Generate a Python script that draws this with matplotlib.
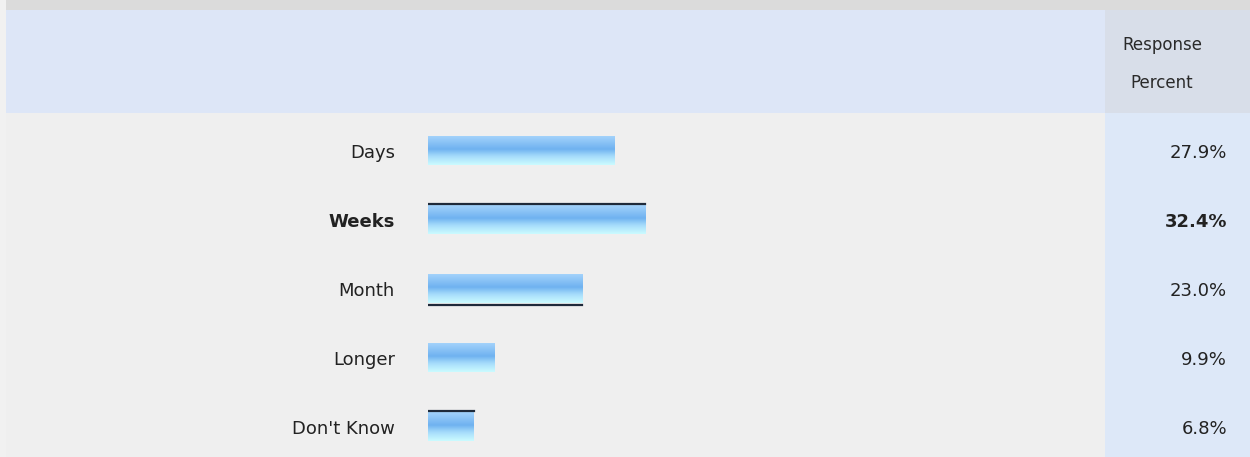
import numpy as np
import matplotlib
matplotlib.use("Agg")
import matplotlib.pyplot as plt
from matplotlib.colors import LinearSegmentedColormap
from matplotlib.patches import Rectangle

# survey answers and their response percent
categories = ["Days", "Weeks", "Month", "Longer", "Don't Know"]
percents = [27.9, 32.4, 23.0, 9.9, 6.8]
pct_labels = ["27.9%", "32.4%", "23.0%", "9.9%", "6.8%"]
# dark rule drawn along one edge of some bars
edge_lines = {"Weeks": "top", "Month": "bottom", "Don't Know": "top"}

W, H = 1250, 457
fig = plt.figure(figsize=(W / 100, H / 100), dpi=100, facecolor="#f1f1f1")

# background panels in pixel coords
bg = fig.add_axes([0, 0, 1, 1])
bg.set_xlim(0, W)
bg.set_ylim(H, 0)
bg.axis("off")
bg.add_patch(Rectangle((6, 0), W - 6, 10, color="#dbdbdb", lw=0))
bg.add_patch(Rectangle((6, 10), 1099, 103, color="#dde6f7", lw=0))
bg.add_patch(Rectangle((1105, 10), W - 1105, 103, color="#d8dee9", lw=0))
bg.add_patch(Rectangle((6, 113), 1099, H - 113, color="#efefef", lw=0))
bg.add_patch(Rectangle((1105, 113), W - 1105, H - 113, color="#dde8f8", lw=0))
bg.text(1162, 45, "Response", ha="center", va="center", fontsize=12, color="#2a2a2a")
bg.text(1162, 83, "Percent", ha="center", va="center", fontsize=12, color="#2a2a2a")

# bar axes: x in percent, 100% = 670 px starting at x=428
row0, step = 151, 69
top_px = row0 - step / 2
ax = fig.add_axes([428 / W, 0, 670 / W, (H - top_px) / H])
ax.set_xlim(0, 100)
ax.set_ylim((H - row0) / step, -0.5)
ax.axis("off")

cmap = LinearSegmentedColormap.from_list(
    "bar", [(0, "#a3d2fb"), (0.45, "#6fb2f0"), (0.7, "#a6dcfb"), (1, "#cbfbff")])
grad = np.linspace(0, 1, 64).reshape(-1, 1)
bh = 0.42
imax = int(np.argmax(percents))

for i, (cat, val) in enumerate(zip(categories, percents)):
    ax.imshow(grad, cmap=cmap, aspect="auto", interpolation="bilinear",
              extent=(0, val, i + bh / 2, i - bh / 2), zorder=2)
    if cat in edge_lines:
        yy = i - bh / 2 - 0.02 if edge_lines[cat] == "top" else i + bh / 2 + 0.02
        ax.plot([0, val], [yy, yy], color="#1f2a3a", lw=1.6, zorder=3)
    weight = "bold" if i == imax else "normal"
    ypix = row0 + step * i + 2
    bg.text(395, ypix, cat, ha="right", va="center",
            fontsize=13, color="#222222", fontweight=weight)
    bg.text(1227, ypix, pct_labels[i], ha="right", va="center",
            fontsize=13, color="#222222", fontweight=weight)

fig.savefig("out.png", dpi=100, facecolor=fig.get_facecolor())
